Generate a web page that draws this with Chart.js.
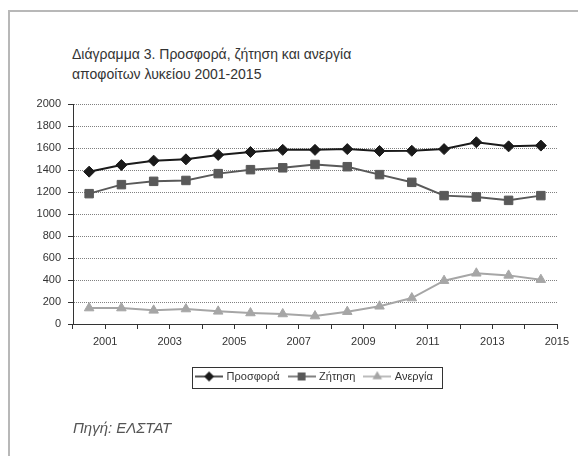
<!DOCTYPE html>
<html>
<head>
<meta charset="utf-8">
<script src="https://cdn.jsdelivr.net/npm/chart.js@4.4.0/dist/chart.umd.min.js"></script>
<style>
  body { margin: 0; background: #fff; }
  #wrap { position: relative; width: 578px; height: 456px; overflow: hidden; font-family: "Liberation Sans", Arial, sans-serif; }
  #frame { position: absolute; left: 8px; top: 10px; right: -4px; bottom: -4px; border-left: 2px solid #b8b8b8; border-top: 2px solid #b8b8b8; }
  #title { position: absolute; left: 72px; top: 44px; font-size: 14px; line-height: 20px; color: #333; }
  #source { position: absolute; left: 73px; top: 418px; font-size: 15px; line-height: 20px; font-style: italic; color: #555; }
  canvas { position: absolute; left: 0; top: 0; }
</style>
</head>
<body>
<div id="wrap">
  <div id="frame"></div>
  <div id="title">Διάγραμμα 3. Προσφορά, ζήτηση και ανεργία<br>αποφοίτων λυκείου 2001-2015</div>
  <canvas id="lineChart" width="578" height="456"></canvas>
  <div id="source">Πηγή: ΕΛΣΤΑΤ</div>
</div>
<script>
var years = ['2001', '2002', '2003', '2004', '2005', '2006', '2007', '2008',
             '2009', '2010', '2011', '2012', '2013', '2014', '2015'];
var supply = [1385, 1445, 1485, 1497, 1537, 1564, 1583, 1583, 1590, 1573, 1575, 1590, 1652, 1615, 1622];
var demand = [1185, 1267, 1297, 1305, 1367, 1403, 1420, 1450, 1430, 1358, 1288, 1167, 1155, 1124, 1167];
var unemployment = [145, 145, 124, 136, 115, 100, 91, 72, 112, 161, 236, 394, 461, 442, 403];
var seriesNames = ['Προσφορά', 'Ζήτηση', 'Ανεργία'];
var yMax = 2000;
var yStep = 200;

var colors = ['#1a1a1a', '#595959', '#a6a6a6'];
var styles = ['rectRot', 'rect', 'triangle'];

// small line+marker samples for the legend
function legendMark(color, style, r) {
  var c = document.createElement('canvas');
  c.width = 28; c.height = 12;
  var g = c.getContext('2d');
  g.strokeStyle = color;
  g.fillStyle = color;
  g.lineWidth = 1.5;
  g.beginPath(); g.moveTo(0, 6); g.lineTo(28, 6); g.stroke();
  Chart.helpers.drawPoint(g, {pointStyle: style, radius: r, borderWidth: 1}, 14, 6);
  return c;
}
var marks = [legendMark(colors[0], styles[0], 4), legendMark(colors[1], styles[1], 4.5), legendMark(colors[2], styles[2], 4)];

var legendFrame = {
  id: 'legendFrame',
  afterLayout: function(chart) {
    chart.legend.left = chart.chartArea.left;
  },
  afterDraw: function(chart) {
    var boxes = chart.legend.legendHitBoxes;
    if (!boxes || !boxes.length) return;
    var last = boxes[boxes.length - 1];
    var l = Math.round(boxes[0].left - 5);
    var r = Math.round(last.left + last.width + 9);
    var cy = Math.round(boxes[0].top + boxes[0].height / 2);
    var ctx = chart.ctx;
    ctx.save();
    ctx.strokeStyle = '#333';
    ctx.lineWidth = 1;
    ctx.strokeRect(l + 0.5, cy - 10 + 0.5, r - l, 21);
    ctx.restore();
  }
};

var ctx = document.getElementById('lineChart').getContext('2d');
var myLineChart = new Chart(ctx, {
  type: 'line',
  data: {
    labels: years,
    datasets: [{
      label: seriesNames[0],
      data: supply,
      borderColor: colors[0],
      backgroundColor: colors[0],
      borderWidth: 2,
      pointStyle: styles[0],
      pointRadius: 5.5,
      pointBorderWidth: 1
    }, {
      label: seriesNames[1],
      data: demand,
      borderColor: colors[1],
      backgroundColor: colors[1],
      borderWidth: 2,
      pointStyle: styles[1],
      pointRadius: 6,
      pointBorderWidth: 1
    }, {
      label: seriesNames[2],
      data: unemployment,
      borderColor: colors[2],
      backgroundColor: colors[2],
      borderWidth: 2,
      pointStyle: styles[2],
      pointRadius: 5.5,
      pointBorderWidth: 1
    }]
  },
  options: {
    responsive: false,
    animation: false,
    layout: { padding: { left: 33, right: 21, top: 104, bottom: 64 } },
    plugins: {
      title: { display: false },
      tooltip: { enabled: false },
      legend: {
        position: 'bottom',
        labels: {
          usePointStyle: true,
          pointStyleWidth: 24,
          boxHeight: 8,
          padding: 10,
          color: '#333',
          font: { family: '"Liberation Sans", Arial, sans-serif', size: 11 },
          generateLabels: function(chart) {
            var items = Chart.defaults.plugins.legend.labels.generateLabels(chart);
            items.forEach(function(it, i) { it.pointStyle = marks[i]; });
            return items;
          }
        }
      }
    },
    scales: {
      x: {
        type: 'category',
        offset: true,
        grid: { offset: true, drawOnChartArea: false, drawTicks: true, tickLength: 5, color: '#333' },
        border: { color: '#333', width: 1 },
        ticks: {
          autoSkip: false,
          maxRotation: 0,
          labelOffset: 16,
          padding: 6,
          color: '#333',
          font: { family: '"Liberation Sans", Arial, sans-serif', size: 11 },
          callback: function(value, index) {
            return index % 2 === 0 ? this.getLabelForValue(value) : '';
          }
        },
        afterFit: function(scale) { scale.height = 37; }
      },
      y: {
        min: 0,
        max: yMax,
        ticks: {
          stepSize: yStep,
          padding: 7,
          color: '#333',
          font: { family: '"Liberation Sans", Arial, sans-serif', size: 11 },
          callback: function(value) { return String(value); }
        },
        grid: { color: '#808080', tickColor: '#333', tickLength: 5, tickBorderDash: [] },
        border: { color: '#333', width: 1, dash: [1, 1] },
        afterFit: function(scale) { scale.width = 40; }
      }
    }
  },
  plugins: [legendFrame]
});
</script>
</body>
</html>
